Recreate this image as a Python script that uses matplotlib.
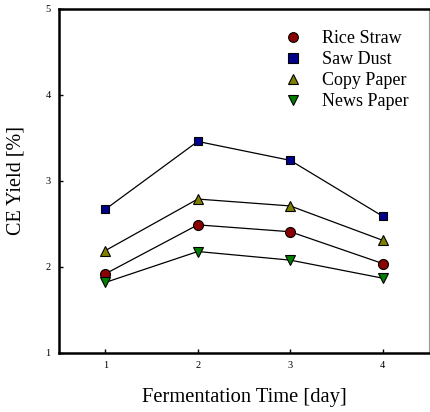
import matplotlib
matplotlib.use("Agg")
import matplotlib.pyplot as plt

days = [1, 2, 3, 4]
rice_straw = [1.92, 2.49, 2.41, 2.04]
saw_dust = [2.67, 3.46, 3.24, 2.59]
copy_paper = [2.19, 2.79, 2.71, 2.31]
news_paper = [1.82, 2.18, 2.08, 1.87]

series = [
    ("Rice Straw", rice_straw, "o", "#8b0000", 7.2),
    ("Saw Dust", saw_dust, "s", "#00008b", 6.4),
    ("Copy Paper", copy_paper, "^", "#808000", 7.4),
    ("News Paper", news_paper, "v", "#008000", 7.4),
]

plt.rcParams['font.family'] = ['Liberation Serif', 'DejaVu Serif']

fig = plt.figure(figsize=(4.30, 4.12), dpi=100)
ax = fig.add_axes([59/430, 1-353/412, 370/430, 344/412])

handles = []
for name, vals, mk, col, ms in series:
    ax.plot(days, vals, color="black", lw=0.9, zorder=2)
    h, = ax.plot(days, vals, linestyle="none", marker=mk, markersize=ms,
                 markerfacecolor=col, markeredgecolor="black", markeredgewidth=0.8,
                 zorder=3, label=name)
    handles.append(h)

ax.set_xlim(0.5, 4.5)
ax.set_ylim(1, 5)
ax.set_xticks(days)
ax.set_yticks([1, 2, 3, 4, 5])
ax.tick_params(direction="in", length=3, width=1, labelsize=7.5, colors="black", pad=6)
for s in ["left", "bottom", "top"]:
    ax.spines[s].set_linewidth(1.8)
ax.spines["right"].set_linewidth(0.8)
ax.spines["right"].set_color("#999999")

ax.set_xlabel("Fermentation Time [day]", fontsize=14.8, labelpad=13)
ax.set_ylabel("CE Yield [%]", fontsize=14.5, labelpad=14)

leg = ax.legend(handles=handles, loc="upper left", bbox_to_anchor=(0.56, 0.985),
                frameon=False, fontsize=13, handletextpad=1.0, labelspacing=0.22,
                handlelength=1.2)
for h in leg.legend_handles:
    h.set_markersize(7)

fig.savefig("out.png", dpi=100)
